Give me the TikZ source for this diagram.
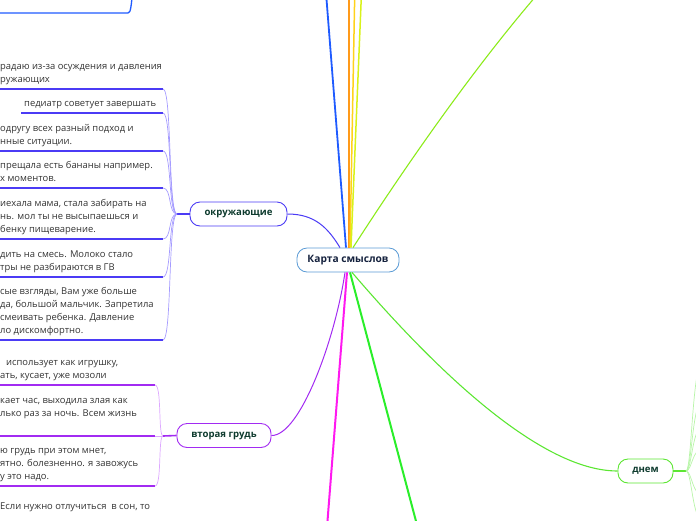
\documentclass[tikz,border=0pt]{standalone}
\usepackage{fontspec}
\setmainfont{Open Sans}
\definecolor{bleuR}{HTML}{5B9BD5}
\definecolor{encre}{HTML}{14213D}
\definecolor{vertF}{HTML}{0E3B2E}
\definecolor{gristexte}{HTML}{333333}
\definecolor{violetB}{HTML}{4B3BF5}
\definecolor{violetC}{HTML}{A59BFF}
\definecolor{pourpre}{HTML}{A22BF2}
\definecolor{pourpreC}{HTML}{DDA8FF}
\definecolor{vertD}{HTML}{5CE632}
\definecolor{vertC}{HTML}{B8F5A8}
\definecolor{bleuL}{HTML}{1F5BFF}
\definecolor{orangeL}{HTML}{FF9A1A}
\definecolor{jauneL}{HTML}{FFD21A}
\definecolor{jauneV}{HTML}{D8F21A}
\definecolor{vertP}{HTML}{8CEB1A}
\definecolor{magentaL}{HTML}{FF19F0}
\definecolor{vertL}{HTML}{2AEE2A}
\tikzset{
  racine/.style={draw=bleuR, line width=0.8pt, rounded corners=10pt, fill=white,
    minimum width=102pt, minimum height=24pt, text=encre,
    font=\fontsize{10.2}{12}\selectfont\bfseries},
  branche/.style={line width=0.9pt, rounded corners=10pt, fill=white,
    minimum height=24pt, text=vertF, font=\fontsize{9.6}{11}\selectfont\bfseries},
  feuille/.style={anchor=south west, align=left, inner xsep=3pt, inner ysep=3pt,
    text depth=3pt, text=gristexte, font=\fontsize{9.4}{13}\selectfont},
  souligne/.style={line width=1.3pt},
  lien/.style={line width=0.7pt},
}
\begin{document}
\begin{tikzpicture}[x=1pt,y=-1pt]
\useasboundingbox (0,0) rectangle (696,520);
\clip (0,0) rectangle (696,520);
		%Noeuds principaux
		\node[racine] (carte) at (348,260) {Карта смыслов};
		\node[branche, draw=violetB, minimum width=97pt] (okr) at (238.5,214) {окружающие};
		\node[branche, draw=pourpre, minimum width=94pt] (vtor) at (224,435.5) {вторая грудь};
		\node[branche, draw=vertD, minimum width=55pt] (dnem) at (645.5,471) {днем};
		%Points hors cadre
		\coordinate (hBleu) at (325,-20);
		\coordinate (hOrange) at (349,-20);
		\coordinate (hJaune) at (355,-20);
		\coordinate (hJauneV) at (362,-20);
		\coordinate (hVertP) at (550,-20);
		\coordinate (bMagenta) at (326,540);
		\coordinate (bVert) at (421,540);
		%Branches du centre
		\draw[bleuL, line width=1.8pt] ([xshift=-2pt]carte.north) -- (hBleu);
		\draw[orangeL, line width=1.8pt] ([xshift=1pt]carte.north) -- (hOrange);
		\draw[jauneL, line width=1.5pt] ([xshift=2pt]carte.north) -- (hJaune);
		\draw[jauneV, line width=1.5pt] ([xshift=3pt]carte.north) -- (hJauneV);
		\draw[vertP, line width=1.1pt] ([xshift=5pt]carte.north) .. controls (390,190) and (470,70) .. (hVertP);
		\draw[violetB, line width=1pt] (okr.east) .. controls (315,214) and (328,228) .. ([xshift=-8pt]carte.north);
		\draw[pourpre, line width=1pt] ([xshift=-3pt]carte.south) .. controls (335,340) and (300,436) .. (vtor.east);
		\draw[magentaL, line width=2pt] ([xshift=-1pt]carte.south) -- (bMagenta);
		\draw[vertL, line width=2pt] ([xshift=2pt]carte.south) -- (bVert);
		\draw[vertD, line width=1.1pt] ([xshift=4pt]carte.south) .. controls (410,340) and (530,471) .. (dnem.west);
		%Feuille en haut
		\coordinate (tG) at (0,13);
		\coordinate (tD) at (128,13);
		\coordinate (tH) at (133,-10);
		\draw[bleuL, souligne] (tG) -- (tD) .. controls (131,13) and (131,5) .. (tH);
		%Feuilles de окружающие
		\coordinate (hA) at (177,214);
		\draw[violetB, line width=1.6pt] (hA) -- (okr.west);
		\node[feuille] (o1) at (-3,89) {радаю из-за осуждения и давления\\ружающих};
		\node[feuille] (o2) at (21,113) {педиатр советует завершать};
		\node[feuille] (o3) at (-3,151) {одругу всех разный подход и\\нные ситуации.};
		\node[feuille] (o4) at (-3,188) {прещала есть бананы например.\\х моментов.};
		\node[feuille] (o5) at (-3,239) {иехала мама, стала забирать на\\нь. мол ты не высыпаешься и\\бенку пищеварение.};
		\node[feuille] (o6) at (-3,277) {дить на смесь. Молоко стало\\тры не разбираются в ГВ};
		\node[feuille] (o7) at (-3,340) {сые взгляды, Вам уже больше\\да, большой мальчик. Запретила\\смеивать ребенка. Давление\\ло дискомфортно.};
		\coordinate (o1e) at (163,89);
		\coordinate (o2e) at (163,113);
		\coordinate (o3e) at (163,151);
		\coordinate (o4e) at (163,188);
		\coordinate (o5e) at (163,239);
		\coordinate (o6e) at (163,277);
		\coordinate (o7e) at (163,340);
		\draw[violetB, souligne] (o1.south west) -- (o1e);
		\draw[violetB, souligne] (o2.south west) -- (o2e);
		\draw[violetB, souligne] (o3.south west) -- (o3e);
		\draw[violetB, souligne] (o4.south west) -- (o4e);
		\draw[violetB, souligne] (o5.south west) -- (o5e);
		\draw[violetB, souligne] (o6.south west) -- (o6e);
		\draw[violetB, souligne] (o7.south west) -- (o7e);
		\draw[violetC, lien] (o1e) .. controls +(9,0) and +(-9,0) .. (hA);
		\draw[violetC, lien] (o2e) .. controls +(9,0) and +(-9,0) .. (hA);
		\draw[violetC, lien] (o3e) .. controls +(9,0) and +(-9,0) .. (hA);
		\draw[violetC, lien] (o4e) .. controls +(9,0) and +(-9,0) .. (hA);
		\draw[violetC, lien] (o5e) .. controls +(9,0) and +(-9,0) .. (hA);
		\draw[violetC, lien] (o6e) .. controls +(9,0) and +(-9,0) .. (hA);
		\draw[violetC, lien] (o7e) .. controls +(9,0) and +(-9,0) .. (hA);
		%Feuilles de вторая грудь
		\coordinate (hB) at (163,436);
		\draw[pourpre, line width=1.6pt] (hB) -- (vtor.west);
		\node[feuille] (v1) at (-3,385) {\hspace*{6pt}использует как игрушку,\\ать, кусает, уже мозоли};
		\node[feuille] (v2) at (-3,436) {кает час, выходила злая как\\лько раз за ночь. Всем жизнь\\\mbox{}};
		\node[feuille] (v3) at (-3,486) {ю грудь при этом мнет,\\ятно. болезненно. я завожусь\\у это надо.};
		\node[feuille] (v4) at (-3,529) {Если нужно отлучиться\ \ в сон, то\\\mbox{}};
		\coordinate (v1e) at (155,385);
		\coordinate (v2e) at (155,436);
		\coordinate (v3e) at (155,486);
		\draw[pourpre, souligne] (v1.south west) -- (v1e);
		\draw[pourpre, line width=1.8pt] (v2.south west) -- (v2e);
		\draw[pourpre, souligne] (v3.south west) -- (v3e);
		\draw[pourpreC, lien] (v1e) .. controls +(7,0) and +(-5,0) .. (hB);
		\draw[pourpreC, lien] (v2e) -- (hB);
		\draw[pourpreC, lien] (v3e) .. controls +(7,0) and +(-5,0) .. (hB);
		%Feuilles de днем
		\coordinate (hC) at (686,471);
		\draw[vertD, line width=1.6pt] (dnem.east) -- (hC);
		\coordinate (d1) at (704,358);
		\coordinate (d2) at (704,398);
		\coordinate (d3) at (704,425);
		\coordinate (d4) at (704,448);
		\coordinate (d5) at (704,496);
		\coordinate (d6) at (704,522);
		\draw[vertC, lien] (hC) .. controls +(6,0) and +(-12,0) .. (d1);
		\draw[vertC, lien] (hC) .. controls +(6,0) and +(-12,0) .. (d2);
		\draw[vertC, lien] (hC) .. controls +(6,0) and +(-12,0) .. (d3);
		\draw[vertC, lien] (hC) .. controls +(6,0) and +(-12,0) .. (d4);
		\draw[vertC, lien] (hC) .. controls +(6,0) and +(-12,0) .. (d5);
		\draw[vertC, lien] (hC) .. controls +(6,0) and +(-12,0) .. (d6);
\end{tikzpicture}
\end{document}
